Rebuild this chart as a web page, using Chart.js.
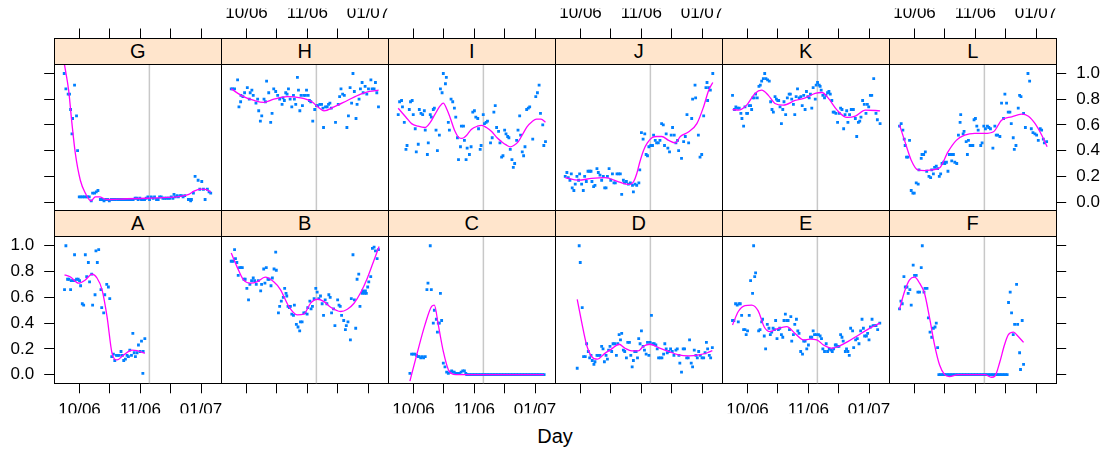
<!DOCTYPE html>
<html lang="en">
<head>
<meta charset="UTF-8">
<title>Daily values by group</title>
<script src="https://cdn.jsdelivr.net/npm/chart.js"></script>
<style>
  body { margin: 0; background: #fff; font-family: 'Liberation Sans', Arial, sans-serif; }
  #wrap { position: relative; width: 1107px; height: 455px; overflow: hidden; }
  #wrap canvas { position: absolute; left: 0; top: 0; }
  .strip {
    position: absolute; box-sizing: border-box; border: 1px solid #000;
    background: #ffe5cc; text-align: center; font-size: 20px; color: #000;
  }
  #xlab { position: absolute; left: 0; width: 1110px; top: 426px; text-align: center; font-size: 20px; line-height: 20px; }
</style>
</head>
<body>
<div id="wrap"><div id="xlab">Day</div></div>
<script>
// axis settings
const xTicks = [0, 20, 40, 60, 80];
const xTickLabels = ['10/06', '', '11/06', '', '01/07'];
const yTicks = [0, 0.2, 0.4, 0.6, 0.8, 1.0];
const yTickLabels = ['0.0', '0.2', '0.4', '0.6', '0.8', '1.0'];
const refDay = 46;

// observed values per group: [day, value]
const dataG = [[-10.1,1.00],[-9.0,0.88],[-7.5,0.84],[-6.6,0.84],[-5.9,0.72],[-5.0,0.53],[-4.6,0.65],[-3.3,0.91],[-2.0,0.67],[-1.3,0.40],
  [-0.2,0.04],[0.9,0.04],[2.0,0.04],[3.1,0.04],[4.2,0.04],[5.3,0.04],[6.4,0.04],[7.7,0.01],[8.6,0.07],[9.9,0.07],[11.0,0.08],[12.1,0.09],
  [13.7,0.02],[15.0,0.02],[16.1,0.01],[17.2,0.02],[18.5,0.02],[19.6,0.01],[20.9,0.02],[22.1,0.02],[23.6,0.02],[25.1,0.02],[26.5,0.02],
  [28.0,0.02],[29.3,0.02],[30.4,0.02],[31.5,0.02],[32.4,0.02],[33.9,0.02],[35.3,0.02],[36.6,0.03],[37.7,0.03],[38.6,0.02],[39.7,0.03],
  [40.8,0.02],[41.7,0.02],[42.8,0.02],[43.9,0.03],[45.0,0.04],[46.1,0.02],[47.2,0.04],[48.5,0.03],[49.4,0.04],[50.7,0.02],[51.8,0.02],
  [52.7,0.04],[53.8,0.04],[54.9,0.03],[56.0,0.03],[57.1,0.03],[58.4,0.03],[59.5,0.03],[60.4,0.04],[61.5,0.03],[62.2,0.06],[63.1,0.04],
  [64.2,0.05],[65.1,0.04],[66.2,0.05],[67.1,0.05],[68.2,0.04],[69.3,0.05],[71.7,0.02],[72.6,0.02],[73.2,0.01],[73.7,0.02],[75.0,0.07],
  [76.1,0.20],[78.1,0.17],[79.2,0.10],[80.5,0.16],[81.6,0.10],[82.7,0.02],[84.2,0.10],[85.3,0.08],[86.4,0.07]];
const dataH = [[-10.1,0.88],[-9.2,0.88],[-7.9,0.88],[-5.9,0.95],[-5.0,0.74],[-3.9,0.78],[-3.7,0.83],[-2.4,0.82],[-1.3,0.85],[0.5,0.89],
  [1.8,0.80],[2.4,0.85],[3.5,0.87],[4.4,0.83],[6.2,0.77],[7.3,0.80],[8.0,0.71],[9.1,0.63],[10.0,0.67],[11.5,0.80],[12.4,0.78],[13.2,0.94],
  [14.6,0.85],[15.9,0.62],[16.8,0.69],[17.9,0.88],[19.2,0.86],[20.5,0.83],[21.8,0.80],[23.4,0.76],[24.0,0.81],[24.9,0.79],[25.8,0.85],
  [26.7,0.84],[27.6,0.88],[28.7,0.80],[29.8,0.74],[30.9,0.83],[31.5,0.80],[32.4,0.76],[33.5,0.97],[34.2,0.87],[35.1,0.71],[35.9,0.83],
  [36.8,0.75],[37.7,0.83],[38.8,0.83],[39.5,0.87],[40.6,0.83],[41.4,0.79],[42.3,0.78],[43.6,0.63],[44.9,0.72],[46.1,0.75],[46.9,0.75],
  [48.3,0.76],[49.4,0.76],[50.3,0.73],[50.7,0.58],[52.0,0.74],[53.1,0.74],[54.0,0.76],[54.9,0.77],[55.8,0.73],[58.6,0.62],[60.4,0.76],
  [61.3,0.82],[62.2,0.88],[63.3,0.84],[64.4,0.83],[66.1,0.58],[67.1,0.67],[68.2,0.89],[69.2,0.77],[70.1,1.00],[71.0,0.86],[72.1,0.65],
  [72.8,0.76],[74.1,0.80],[75.0,0.88],[76.1,0.93],[76.8,0.85],[78.1,0.90],[79.2,0.84],[80.3,0.88],[81.9,0.95],[82.7,0.88],[84.0,0.88],
  [84.9,0.93],[85.8,0.85],[86.9,0.74]];
const dataI = [[-10.1,0.68],[-9.2,0.78],[-7.9,0.79],[-7.3,0.74],[-6.1,0.62],[-5.0,0.41],[-4.3,0.44],[-2.8,0.72],[-2.0,0.78],[-0.9,0.79],
  [-0.2,0.68],[1.1,0.57],[1.8,0.39],[3.1,0.45],[3.8,0.72],[4.9,0.69],[6.0,0.68],[7.1,0.71],[7.7,0.56],[9.1,0.37],[9.7,0.46],[11.0,0.68],
  [11.7,0.66],[13.0,0.72],[13.7,0.73],[14.8,0.56],[15.7,0.40],[17.0,0.52],[17.7,0.88],[18.8,0.85],[19.6,1.00],[21.0,0.92],[21.6,0.97],
  [22.9,0.62],[23.6,0.56],[24.7,0.80],[25.8,0.78],[26.9,0.73],[27.8,0.66],[28.9,0.50],[29.6,0.33],[30.9,0.43],[31.5,0.59],[32.9,0.59],
  [33.5,0.48],[34.6,0.33],[35.3,0.42],[36.8,0.37],[37.9,0.43],[39.0,0.70],[40.1,0.71],[41.0,0.66],[42.3,0.65],[42.8,0.57],[43.9,0.41],
  [44.5,0.44],[45.9,0.68],[46.7,0.61],[47.8,0.62],[48.7,0.63],[50.7,0.46],[51.8,0.50],[52.9,0.70],[53.8,0.75],[54.7,0.58],[56.0,0.55],
  [56.9,0.46],[58.0,0.35],[58.9,0.36],[60.0,0.56],[60.9,0.53],[62.0,0.51],[62.8,0.50],[63.7,0.41],[64.8,0.33],[65.7,0.27],[66.6,0.30],
  [67.9,0.48],[68.8,0.56],[69.9,0.67],[70.5,0.52],[71.6,0.39],[72.5,0.36],[73.4,0.43],[74.5,0.72],[75.6,0.73],[76.5,0.74],[78.5,0.49],
  [80.5,0.82],[81.6,0.85],[82.7,0.91],[83.6,0.69],[85.1,0.60],[85.8,0.44],[86.9,0.47]];
const dataJ = [[-10.1,0.20],[-9.0,0.23],[-8.1,0.19],[-7.0,0.17],[-6.1,0.22],[-5.5,0.11],[-4.4,0.09],[-3.5,0.14],[-2.4,0.20],[-1.3,0.17],
  [-0.6,0.22],[0.7,0.14],[1.8,0.09],[2.7,0.20],[3.8,0.16],[4.9,0.24],[6.0,0.24],[6.9,0.24],[7.5,0.16],[8.6,0.12],[9.5,0.13],[10.8,0.26],
  [11.7,0.23],[12.8,0.21],[13.9,0.17],[15.0,0.20],[15.9,0.11],[16.8,0.11],[17.7,0.20],[18.8,0.26],[19.9,0.17],[21.0,0.22],[22.0,0.15],
  [22.9,0.15],[24.0,0.22],[25.1,0.22],[26.2,0.22],[27.1,0.06],[28.2,0.17],[28.9,0.15],[30.2,0.16],[31.5,0.14],[32.8,0.15],[34.2,0.13],
  [34.8,0.08],[35.9,0.14],[37.0,0.13],[38.4,0.15],[39.0,0.25],[40.1,0.54],[41.2,0.49],[42.3,0.53],[43.2,0.37],[44.1,0.36],[45.0,0.43],
  [46.3,0.44],[47.4,0.44],[48.1,0.52],[49.2,0.48],[50.1,0.46],[51.2,0.46],[52.3,0.48],[53.4,0.61],[54.5,0.60],[55.3,0.44],[56.4,0.53],
  [57.5,0.42],[58.6,0.39],[59.7,0.52],[60.6,0.58],[61.7,0.52],[62.8,0.46],[63.9,0.48],[64.6,0.40],[66.5,0.34],[67.9,0.47],[69.0,0.51],
  [70.1,0.68],[71.2,0.46],[73.2,0.65],[73.8,0.80],[75.4,0.91],[75.8,0.81],[77.6,0.52],[78.7,0.35],[79.8,0.37],[81.1,0.67],[82.6,0.89],
  [83.3,0.93],[83.7,0.79],[84.4,0.89],[85.5,0.87],[87.1,1.00]];
const dataK = [[-9.9,0.83],[-8.6,0.72],[-7.7,0.74],[-6.6,0.73],[-5.5,0.73],[-4.4,0.69],[-3.7,0.65],[-2.6,0.59],[-1.7,0.74],[-0.6,0.69],
  [0.0,0.69],[1.1,0.75],[2.0,0.75],[2.7,0.72],[3.5,0.81],[4.4,0.81],[5.3,0.84],[6.4,0.81],[7.5,0.90],[8.4,0.91],[9.3,0.94],[10.4,0.96],
  [11.3,1.00],[12.1,0.96],[13.2,0.95],[14.3,0.94],[15.2,0.78],[16.1,0.72],[17.0,0.70],[18.1,0.82],[19.0,0.80],[19.9,0.79],[20.5,0.79],
  [21.4,0.74],[22.3,0.61],[23.2,0.72],[24.0,0.78],[25.1,0.68],[26.2,0.81],[27.4,0.84],[28.2,0.84],[29.1,0.80],[30.2,0.76],[31.1,0.68],
  [32.0,0.82],[32.9,0.88],[34.0,0.81],[35.1,0.82],[36.0,0.75],[37.0,0.83],[37.9,0.72],[38.8,0.86],[39.7,0.82],[40.6,0.81],[41.4,0.84],
  [42.3,0.73],[43.2,0.89],[44.6,0.80],[45.2,0.91],[46.1,0.93],[47.2,0.91],[47.8,0.90],[48.5,0.87],[49.6,0.83],[50.7,0.81],[51.6,0.83],
  [52.7,0.85],[53.6,0.86],[54.5,0.84],[55.5,0.79],[56.4,0.70],[57.1,0.70],[58.2,0.69],[59.3,0.62],[60.4,0.69],[61.3,0.73],[62.2,0.72],
  [63.3,0.57],[64.2,0.68],[65.3,0.71],[66.1,0.62],[67.2,0.68],[68.3,0.72],[69.7,0.72],[71.0,0.65],[71.9,0.51],[73.0,0.62],[73.9,0.63],
  [74.7,0.66],[75.8,0.79],[76.9,0.76],[78.0,0.69],[78.9,0.76],[79.8,0.74],[80.9,0.83],[81.8,0.83],[83.1,0.96],[84.6,0.69],[85.5,0.64],
  [87.3,0.61]];
const dataL = [[-9.9,0.59],[-8.8,0.61],[-7.7,0.56],[-6.8,0.49],[-6.2,0.44],[-5.3,0.35],[-4.4,0.35],[-3.3,0.48],[-2.2,0.09],[-1.1,0.07],
  [-0.2,0.07],[1.1,0.15],[2.4,0.14],[2.9,0.25],[4.4,0.34],[4.9,0.37],[6.0,0.37],[7.1,0.39],[8.0,0.24],[9.5,0.20],[10.6,0.19],[11.3,0.25],
  [12.4,0.22],[13.2,0.27],[14.3,0.28],[15.2,0.26],[16.3,0.20],[17.2,0.22],[18.1,0.30],[19.2,0.31],[19.9,0.30],[21.0,0.31],[22.0,0.24],
  [22.9,0.37],[23.8,0.37],[24.5,0.32],[25.6,0.37],[26.5,0.31],[27.8,0.30],[28.9,0.52],[30.0,0.62],[30.4,0.68],[32.0,0.53],[32.6,0.55],
  [34.0,0.47],[34.8,0.37],[35.5,0.48],[36.6,0.44],[37.5,0.44],[38.4,0.44],[39.2,0.64],[40.1,0.65],[41.0,0.59],[41.9,0.56],[43.6,0.44],
  [44.5,0.46],[45.6,0.59],[46.7,0.57],[48.0,0.59],[48.9,0.58],[50.0,0.57],[51.6,0.42],[52.9,0.59],[53.8,0.52],[54.7,0.52],[56.2,0.51],
  [57.3,0.77],[58.6,0.65],[59.5,0.84],[60.6,0.77],[61.7,0.70],[62.8,0.70],[63.7,0.61],[65.0,0.50],[65.7,0.41],[66.8,0.44],[68.3,0.73],
  [69.2,0.83],[70.1,0.82],[71.8,0.69],[73.0,0.58],[74.7,1.00],[75.8,0.94],[76.9,0.57],[78.0,0.54],[79.3,0.53],[80.4,0.52],[81.5,0.48],
  [82.8,0.57],[83.7,0.56],[84.8,0.49],[85.5,0.46],[87.0,0.47]];
const dataA = [[-9.9,0.66],[-9.0,1.00],[-7.9,0.74],[-7.0,0.74],[-5.9,0.66],[-5.5,0.73],[-4.4,0.73],[-3.3,0.93],[-3.1,0.73],[-2.0,0.74],
  [-0.9,0.74],[0.0,0.73],[0.7,0.69],[1.8,0.55],[2.7,0.54],[3.8,0.93],[4.7,0.76],[5.8,0.87],[6.6,0.72],[8.0,0.78],[8.6,0.54],[10.2,0.62],
  [10.8,0.96],[11.7,0.87],[12.6,0.97],[14.1,0.66],[14.6,0.52],[15.9,0.48],[16.6,0.62],[17.9,0.70],[19.0,0.68],[19.9,0.59],[21.2,0.14],
  [22.3,0.16],[23.2,0.11],[24.3,0.15],[25.1,0.15],[26.2,0.15],[27.3,0.18],[28.2,0.15],[29.1,0.11],[30.2,0.12],[31.3,0.15],[32.2,0.14],
  [33.1,0.19],[34.2,0.15],[35.1,0.32],[36.0,0.17],[36.8,0.14],[37.9,0.17],[38.8,0.23],[39.9,0.18],[40.8,0.26],[41.7,0.01],[41.9,0.18],
  [43.0,0.28]];
const dataB = [[-10.1,0.88],[-9.0,0.88],[-7.9,0.97],[-7.3,0.90],[-6.4,0.87],[-5.5,0.77],[-4.6,0.83],[-3.7,0.83],[-2.8,0.83],[-1.7,0.74],
  [-0.9,0.74],[0.2,0.67],[1.3,0.58],[2.2,0.70],[3.3,0.73],[4.4,0.75],[5.3,0.73],[6.4,0.70],[7.7,0.73],[9.3,0.65],[9.9,0.70],[11.3,0.82],
  [12.1,0.71],[13.0,0.83],[14.1,0.74],[14.8,0.74],[16.1,0.69],[17.0,0.75],[18.1,0.82],[19.2,0.95],[19.6,0.81],[21.0,0.48],[21.8,0.53],
  [22.9,0.57],[24.2,0.60],[25.1,0.67],[26.0,0.63],[26.5,0.61],[27.3,0.53],[28.2,0.52],[28.9,0.53],[29.8,0.47],[30.9,0.46],[31.5,0.54],
  [32.8,0.39],[33.9,0.37],[35.0,0.34],[35.5,0.41],[36.6,0.41],[37.7,0.48],[38.6,0.48],[39.9,0.47],[40.3,0.52],[41.7,0.57],[42.5,0.51],
  [43.4,0.53],[44.5,0.59],[45.6,0.67],[46.5,0.64],[47.6,0.59],[48.7,0.61],[49.8,0.55],[50.7,0.46],[51.8,0.58],[52.9,0.55],[54.2,0.62],
  [55.1,0.60],[56.0,0.48],[57.3,0.51],[58.2,0.38],[60.0,0.58],[60.9,0.54],[61.7,0.53],[62.6,0.46],[64.0,0.42],[65.1,0.35],[65.7,0.38],
  [66.8,0.41],[68.4,0.27],[69.0,0.59],[70.1,0.93],[71.0,0.58],[71.9,0.36],[72.8,0.74],[73.9,0.78],[74.7,0.53],[76.1,0.63],[76.5,0.65],
  [77.6,0.63],[78.3,0.65],[78.9,0.63],[79.8,0.68],[80.5,0.72],[81.8,0.76],[82.9,0.98],[84.0,0.99],[84.9,0.96],[86.0,0.90],[86.9,0.97]];
const dataC = [[-2.4,0.01],[-1.3,0.16],[-0.2,0.16],[0.9,0.16],[2.0,0.15],[3.1,0.14],[3.8,0.14],[4.7,0.13],[5.8,0.14],[6.6,0.13],[7.7,0.14],
  [8.8,0.66],[9.5,0.71],[11.0,1.00],[11.7,0.66],[13.0,0.40],[13.7,0.50],[15.0,0.43],[15.7,0.33],[16.3,0.40],[17.0,0.40],[17.7,0.63],
  [18.5,0.42],[19.6,0.09],[20.7,0.06],[21.8,0.02],[22.9,0.01],[24.0,0.02],[25.1,0.03],[25.9,0.02],[26.8,0.02],[27.7,0.01],[29.1,0.01],
  [30.2,0.01],[31.3,0.02],[32.4,0.03],[33.5,0.03],[34.4,0.01],[35,0],[36,0],[37,0],[38,0],[39,0],[40,0],[41,0],[42,0],[43,0],[44,0],
  [45,0],[46,0],[47,0],[48,0],[49,0],[50,0],[51,0],[52,0],[53,0],[54,0],[55,0],[56,0],[57,0],[58,0],[59,0],[60,0],[61,0],[62,0],[63,0],
  [64,0],[65,0],[66,0],[67,0],[68,0],[69,0],[70,0],[71,0],[72,0],[73,0],[74,0],[75,0],[76,0],[77,0],[78,0],[79,0],[80,0],[81,0],[82,0],
  [83,0],[84,0],[85,0],[86,0]];
const dataD = [[-2.2,0.05],[-0.9,1.00],[-0.2,0.87],[1.1,0.52],[2.0,0.14],[3.1,0.14],[4.0,0.24],[5.1,0.18],[6.0,0.13],[6.9,0.15],[7.7,0.11],
  [8.8,0.08],[9.5,0.10],[10.8,0.15],[11.7,0.15],[12.8,0.15],[13.9,0.22],[14.8,0.20],[15.7,0.10],[16.8,0.15],[17.7,0.12],[18.5,0.19],
  [19.4,0.22],[20.5,0.18],[21.4,0.24],[22.5,0.24],[23.6,0.15],[24.5,0.24],[25.4,0.31],[26.3,0.27],[27.1,0.32],[28.2,0.19],[29.1,0.18],
  [30.2,0.13],[31.1,0.25],[32.2,0.25],[33.1,0.15],[34.0,0.06],[34.8,0.11],[35.7,0.18],[36.6,0.18],[37.5,0.13],[38.3,0.28],[39.2,0.24],
  [40.1,0.34],[41.2,0.22],[42.1,0.19],[43.2,0.16],[44.1,0.25],[45.0,0.15],[45.8,0.25],[46.7,0.46],[47.6,0.24],[48.5,0.24],[49.6,0.23],
  [50.5,0.20],[51.4,0.13],[52.5,0.13],[53.6,0.13],[54.7,0.16],[55.5,0.24],[56.4,0.20],[57.1,0.17],[58.2,0.18],[59.3,0.20],[60.4,0.18],
  [61.5,0.15],[62.8,0.19],[63.7,0.20],[64.8,0.15],[65.4,0.09],[66.5,0.02],[67.6,0.20],[68.5,0.20],[69.9,0.13],[70.9,0.13],[71.8,0.27],
  [72.9,0.09],[73.8,0.06],[74.9,0.19],[76.0,0.15],[76.9,0.13],[77.8,0.18],[78.9,0.15],[80.0,0.13],[81.1,0.13],[82.0,0.17],[82.9,0.25],
  [83.7,0.20],[84.8,0.15],[85.7,0.13],[86.8,0.21]];
const dataE = [[-9.9,0.42],[-9.0,0.42],[-7.9,0.55],[-6.8,0.54],[-6.1,0.41],[-5.7,0.55],[-4.8,0.55],[-3.9,0.46],[-2.6,0.35],[-1.7,0.35],
  [-0.9,0.31],[0.0,0.34],[1.1,0.46],[2.0,0.73],[3.3,0.63],[4.0,1.00],[4.7,0.76],[5.3,0.79],[7.3,0.34],[8.2,0.35],[9.3,0.41],[9.9,0.43],
  [11.0,0.30],[11.9,0.20],[13.0,0.39],[14.1,0.36],[15.0,0.31],[15.9,0.33],[16.8,0.36],[17.7,0.35],[18.5,0.42],[19.4,0.28],[20.3,0.35],
  [21.2,0.36],[22.3,0.31],[23.2,0.29],[24.0,0.42],[24.9,0.47],[25.8,0.42],[26.7,0.42],[27.6,0.35],[28.5,0.45],[29.1,0.26],[30.2,0.31],
  [31.1,0.39],[32.2,0.43],[33.1,0.34],[33.9,0.32],[35.0,0.18],[36.2,0.16],[37.0,0.26],[37.9,0.26],[39.0,0.20],[40.1,0.23],[41.4,0.29],
  [42.3,0.29],[43.2,0.34],[44.1,0.31],[45.2,0.31],[46.7,0.31],[47.8,0.30],[48.7,0.28],[49.6,0.20],[50.7,0.18],[51.8,0.24],[52.7,0.18],
  [53.8,0.20],[54.9,0.19],[55.8,0.18],[56.7,0.20],[57.8,0.23],[58.4,0.23],[59.3,0.22],[60.2,0.22],[61.3,0.31],[62.2,0.29],[63.0,0.26],
  [64.4,0.18],[65.2,0.20],[66.1,0.18],[67.0,0.15],[67.9,0.36],[69.2,0.34],[69.9,0.21],[71.2,0.27],[72.3,0.28],[73.4,0.24],[74.5,0.34],
  [75.4,0.43],[76.3,0.36],[77.1,0.30],[78.3,0.30],[79.1,0.32],[80.0,0.27],[80.9,0.37],[82.0,0.43],[82.7,0.38],[83.8,0.38],[84.6,0.38],
  [85.7,0.35],[87.1,0.40]];
const dataF = [[-9.9,0.51],[-9.0,0.57],[-8.1,0.55],[-7.0,0.76],[-6.1,0.68],[-5.0,0.68],[-4.2,0.63],[-3.1,0.66],[-2.2,0.54],[-0.9,0.85],
  [0.0,0.77],[1.1,0.77],[2.2,0.64],[3.3,0.64],[4.4,0.83],[5.1,1.00],[6.2,0.64],[6.9,0.67],[8.2,0.67],[9.1,0.44],[10.2,0.33],[11.3,0.29],
  [12.4,0.36],[13.5,0.37],[14.3,0.40],[15.2,0.21],[16,0],[17,0],[18,0],[19,0],[20,0],[21,0],[22,0],[23,0],[24,0],[25,0],[26,0],[27,0],
  [28,0],[29,0],[30,0],[31,0],[32,0],[33,0],[34,0],[35,0],[36,0],[37,0],[38,0],[39,0],[40,0],[41,0],[42,0],[43,0],[44,0],[45,0],[46,0],
  [47,0],[48,0],[49,0],[50,0],[51,0],[52,0],[53,0],[54,0],[55,0],[56,0],[57,0],[58,0],[59,0],[60,0],[61,0],
  [61.9,0.56],[63.0,0.64],[63.9,0.48],[65.0,0.31],[65.9,0.39],[67.2,0.70],[67.9,0.39],[69.2,0.17],[69.8,0.04],[70.9,0.42],[71.8,0.08]];

// smoothed trend per group: [day, value]
const curveG = [[-10.1,1.08],[-7.2,0.87],[-5,0.61],[-2.8,0.38],[0.5,0.17],[3.8,0.07],[7.5,0.01],[10.4,0.04],[13,0.04],[18,0.02],
  [31.3,0.026],[44.5,0.03],[57.8,0.036],[67.7,0.047],[72,0.06],[75.4,0.085],[79.8,0.10],[83,0.098],[86.4,0.078]];
const curveH = [[-10.1,0.88],[-2,0.82],[5,0.79],[11.3,0.775],[18,0.80],[26.7,0.82],[35.5,0.81],[43,0.78],[47,0.74],[51,0.71],
  [57.6,0.74],[66.4,0.79],[75.2,0.84],[81,0.86],[87,0.87]];
const curveI = [[-10.1,0.73],[-5,0.66],[-1.3,0.61],[3,0.59],[7.5,0.58],[11,0.62],[14,0.68],[17,0.74],[19.6,0.77],[22,0.72],[24,0.66],
  [27.3,0.55],[30,0.50],[32,0.495],[35,0.52],[38,0.565],[42,0.59],[45,0.596],[48,0.58],[51.6,0.547],[55,0.50],[58,0.47],[61,0.445],
  [63.7,0.43],[66,0.44],[69,0.47],[72,0.53],[74.7,0.585],[78,0.625],[81,0.645],[84,0.645],[86.9,0.62]];
const curveJ = [[-10.1,0.19],[-1.5,0.17],[7.3,0.184],[16,0.19],[25,0.158],[30,0.14],[32.6,0.137],[35,0.16],[37,0.22],[39,0.31],
  [41.4,0.40],[44,0.46],[47,0.50],[50,0.51],[53.5,0.51],[58,0.48],[62.5,0.46],[65.7,0.51],[71.3,0.547],[76.6,0.61],[81,0.74],
  [84.4,0.87],[87.1,0.93]];
const curveK = [[-9.9,0.72],[-6,0.715],[-0.6,0.754],[4.9,0.845],[9.3,0.87],[13.7,0.83],[18,0.767],[23.6,0.754],[31.3,0.79],[38,0.81],
  [44.5,0.845],[49,0.852],[53.3,0.806],[59,0.715],[65.5,0.658],[71,0.668],[77.6,0.715],[87.3,0.71]];
const curveL = [[-9.9,0.60],[-6.6,0.48],[-2.2,0.326],[2.2,0.25],[6.6,0.245],[11,0.25],[16.6,0.267],[22,0.39],[27.5,0.48],[33,0.52],
  [39.7,0.534],[46,0.534],[52,0.547],[57.3,0.637],[64,0.663],[70.5,0.684],[75,0.668],[79.4,0.61],[83.8,0.52],[87.3,0.43]];
const curveA = [[-9.9,0.775],[-6.2,0.76],[-0.6,0.71],[3.8,0.735],[8.2,0.78],[11.5,0.75],[14.8,0.66],[18.1,0.45],[21.4,0.166],
  [24.7,0.114],[29.1,0.153],[34.6,0.19],[37.9,0.187],[43,0.166]];
const curveB = [[-10.1,0.943],[-6.4,0.84],[-2,0.735],[2.4,0.71],[6.8,0.72],[12.3,0.756],[17.9,0.72],[22.3,0.66],[27.8,0.53],
  [33.3,0.464],[37.7,0.47],[42.2,0.555],[46.6,0.585],[51,0.567],[55.4,0.523],[62,0.49],[66.4,0.508],[70.8,0.554],[75.2,0.637],
  [79.6,0.75],[84,0.89],[87.3,0.995]];
const curveC = [[-2.4,-0.05],[2,0.15],[7.5,0.386],[11.9,0.53],[13.7,0.54],[16.3,0.386],[19.6,0.18],[23,0.036],[26.2,0.003],
  [30.7,0.0],[36,0.0],[85.8,0.0]];
const curveD = [[-2.2,0.585],[0.7,0.41],[4,0.23],[7.3,0.14],[11,0.12],[16,0.165],[20.5,0.20],[25.3,0.236],[29.3,0.205],[33.7,0.184],
  [38,0.184],[41.4,0.22],[45.8,0.236],[51.4,0.21],[58,0.18],[64.6,0.153],[71.3,0.146],[77.9,0.153],[83.5,0.17],[86.8,0.186]];
const curveE = [[-9.9,0.386],[-6.1,0.49],[-1.7,0.536],[2.7,0.54],[7,0.495],[11,0.37],[14.8,0.334],[20.3,0.36],[25.8,0.373],
  [31.3,0.32],[36.8,0.27],[41.2,0.275],[45.6,0.27],[50,0.23],[55.6,0.205],[61,0.225],[66.6,0.26],[73.2,0.308],[79.8,0.355],[87.1,0.40]];
const curveF = [[-9.9,0.507],[-6.6,0.645],[-3.3,0.736],[0,0.756],[3.3,0.71],[6.6,0.63],[9.9,0.44],[13.2,0.23],[16.5,0.075],
  [19.8,0.0],[23,-0.015],[28.7,0],[46.3,0],[50.7,-0.02],[53,-0.01],[56.2,0.1],[59.2,0.23],[61.8,0.31],[65.2,0.33],[68,0.3],[71.8,0.25]];

const panels = [
  { name: 'G', row: 0, col: 0, pts: dataG, fit: curveG },
  { name: 'H', row: 0, col: 1, pts: dataH, fit: curveH },
  { name: 'I', row: 0, col: 2, pts: dataI, fit: curveI },
  { name: 'J', row: 0, col: 3, pts: dataJ, fit: curveJ },
  { name: 'K', row: 0, col: 4, pts: dataK, fit: curveK },
  { name: 'L', row: 0, col: 5, pts: dataL, fit: curveL },
  { name: 'A', row: 1, col: 0, pts: dataA, fit: curveA },
  { name: 'B', row: 1, col: 1, pts: dataB, fit: curveB },
  { name: 'C', row: 1, col: 2, pts: dataC, fit: curveC },
  { name: 'D', row: 1, col: 3, pts: dataD, fit: curveD },
  { name: 'E', row: 1, col: 4, pts: dataE, fit: curveE },
  { name: 'F', row: 1, col: 5, pts: dataF, fit: curveF }
];

// layout (px)
const W = 1107, H = 455;
const X0 = 54.2, PW = 167;
const rowTop = [38.5, 210.7];   // strip top
const rowBot = [210.7, 383.3];  // panel bottom
const STRIP = 26;
const AXX = 30;                 // height of each x axis box
const AXY = 50;                 // width of each y axis box
const xMin = -16.7, xMax = 93.3;
const yMin = -0.067, yMax = 1.272;

Chart.defaults.font.family = "'Liberation Sans', Arial, sans-serif";
Chart.defaults.font.size = 17;
Chart.defaults.color = '#000';

const fixSize = s => { if (s.isHorizontal()) s.height = AXX; else s.width = AXY; };

function xAxis(pos, marks, labels) {
  return {
    type: 'linear', position: pos, min: xMin, max: xMax,
    afterBuildTicks: s => { s.ticks = xTicks.map(v => ({ value: v })); },
    afterFit: fixSize,
    grid: { display: marks, drawOnChartArea: false, drawTicks: true, tickLength: 10, tickColor: '#000', tickWidth: 1 },
    border: { display: true, color: '#000', width: 1 },
    ticks: { display: labels, autoSkip: false, maxRotation: 0, padding: pos === 'top' ? 5 : 7,
             callback: (v, i) => xTickLabels[i] }
  };
}
function yAxis(pos, marks, labels) {
  return {
    type: 'linear', position: pos, min: yMin, max: yMax,
    afterBuildTicks: s => { s.ticks = yTicks.map(v => ({ value: v })); },
    afterFit: fixSize,
    grid: { display: marks, drawOnChartArea: false, drawTicks: true, tickLength: 10, tickColor: '#000', tickWidth: 1 },
    border: { display: true, color: '#000', width: 1 },
    ticks: { display: labels, autoSkip: false, padding: 10, callback: (v, i) => yTickLabels[i] }
  };
}

const wrap = document.getElementById('wrap');
panels.forEach(p => {
  const left = X0 + p.col * PW;
  const top = rowTop[p.row], bottom = rowBot[p.row];

  const cv = document.createElement('canvas');
  cv.width = W; cv.height = H;
  wrap.appendChild(cv);

  const bottomRow = p.row === 1;
  new Chart(cv, {
    type: 'scatter',
    data: {
      datasets: [
        { data: p.fit.map(([x, y]) => ({ x, y })), showLine: true, borderColor: '#ff00ff', borderWidth: 1.3,
          pointRadius: 0, cubicInterpolationMode: 'monotone', order: 0 },
        { data: p.pts.map(([x, y]) => ({ x, y })), pointStyle: 'rect', pointRadius: 2, pointBorderWidth: 0,
          backgroundColor: '#0080ff', pointBackgroundColor: '#0080ff', order: 1 },
        { data: [{ x: refDay, y: -0.2 }, { x: refDay, y: 1.07 }], showLine: true, borderColor: '#c8c8c8',
          borderWidth: 1.5, pointRadius: 0, tension: 0, order: 2 }
      ]
    },
    options: {
      responsive: false, animation: false, events: [],
      layout: { padding: { left: left - AXY, right: W - left - PW - AXY, top: top - AXX, bottom: H - bottom - AXX } },
      plugins: { legend: { display: false }, tooltip: { enabled: false } },
      scales: {
        x: xAxis('bottom', bottomRow, bottomRow && p.col % 2 === 0),
        x2: xAxis('top', !bottomRow, !bottomRow && p.col % 2 === 1),
        y: yAxis('left', p.col === 0, p.col === 0 && bottomRow),
        y2: yAxis('right', p.col === 5, p.col === 5 && !bottomRow)
      }
    }
  });

  const st = document.createElement('div');
  st.className = 'strip';
  st.textContent = p.name;
  st.style.left = (left - 0.5) + 'px';
  st.style.top = (top - 0.5) + 'px';
  st.style.width = (PW + 1) + 'px';
  st.style.height = (STRIP + 1) + 'px';
  st.style.lineHeight = (STRIP - 1) + 'px';
  wrap.appendChild(st);
});
</script>
</body>
</html>
